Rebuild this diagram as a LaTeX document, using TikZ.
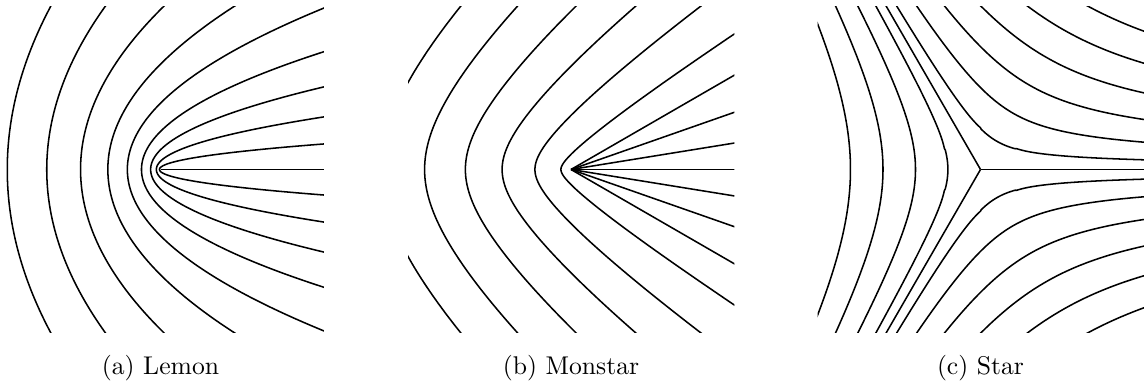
\documentclass[tikz,border=0pt]{standalone}
\tikzset{
  curve/.style={line width=0.6pt, black, line join=round},
  caption/.style={anchor=base, inner sep=0pt, font=\fontsize{10}{12}\selectfont},
}
\begin{document}
\begin{tikzpicture}[x=0.39pt, y=0.39pt]
\useasboundingbox (0,0) rectangle (1146,389);

% (a) Lemon: confocal parabolas
\begin{scope}[shift={(160.5,219.5)}, scale=162.5]
  \clip (-1.003,-1.003) rectangle (1.006,1.003);
  \foreach \C in {0.943,0.700,0.492,0.324,0.204,0.117,0.0606,0.0254,0.0061}{
    \pgfmathsetmacro\vm{min(1.05,sqrt(4*\C*(1.05+\C)))}
    \draw[curve] plot[domain=-\vm:\vm, samples=160, variable=\t] ({\t*\t/(4*\C)-\C},{\t});
  }
  \draw[curve] (0,0) -- (1.1,0);
\end{scope}

% (b) Monstar
\begin{scope}[shift={(571,219.5)}, scale=162.5]
  \clip (-1.003,-1.003) rectangle (1.006,1.003);
  \foreach \K in {7.0,5.406,3.9,2.544,1.332,0.372}{
    \pgfmathsetmacro\fa{30+3.6*sqrt(\K)}
    \pgfmathsetmacro\fb{150-3.6*sqrt(\K)}
    \draw[curve] plot[domain=\fa:\fb, samples=300, variable=\f]
      ({1.5*\K*sin(\f)^2*cos(2*\f)/(1-2*cos(2*\f))^2},
       {\K*sin(\f)^3*cos(\f)/(1-2*cos(2*\f))^2});
  }
  \foreach \a in {0,9.2,-9.2,19.3,-19.3,30,-30}{
    \draw[curve] (0,0) -- (\a:1.3);
  }
\end{scope}

% (c) Star (trisector)
\begin{scope}[shift={(980.5,219.5)}, scale=162.5]
  \clip (-1.003,-1.003) rectangle (1.006,1.003);
  \foreach \m/\kmax in {0/6,1/4,2/6}{
    \foreach \k in {1,...,\kmax}{
      \pgfmathsetmacro\C{(0.2*\k)^1.5}
      \pgfmathsetmacro\T{ln(1.9/\C + sqrt((1.9/\C)^2+1))}
      \draw[curve] plot[domain=-\T:\T, samples=200, variable=\t]
        ({(\C*(exp(\t)+exp(-\t))/2)^(2/3)*cos(2/3*atan2(1,(exp(\t)-exp(-\t))/2)+120*\m)},
         {(\C*(exp(\t)+exp(-\t))/2)^(2/3)*sin(2/3*atan2(1,(exp(\t)-exp(-\t))/2)+120*\m)});
    }
  }
  \foreach \a in {0,120,240}{
    \draw[curve] (0,0) -- (\a:1.6);
  }
\end{scope}

\node[caption] (capa) at (160.5,14.5) {(a) Lemon};
\node[caption] (capb) at (571,14.5) {(b) Monstar};
\node[caption] (capc) at (980.5,14.5) {(c) Star};
\end{tikzpicture}
\end{document}
